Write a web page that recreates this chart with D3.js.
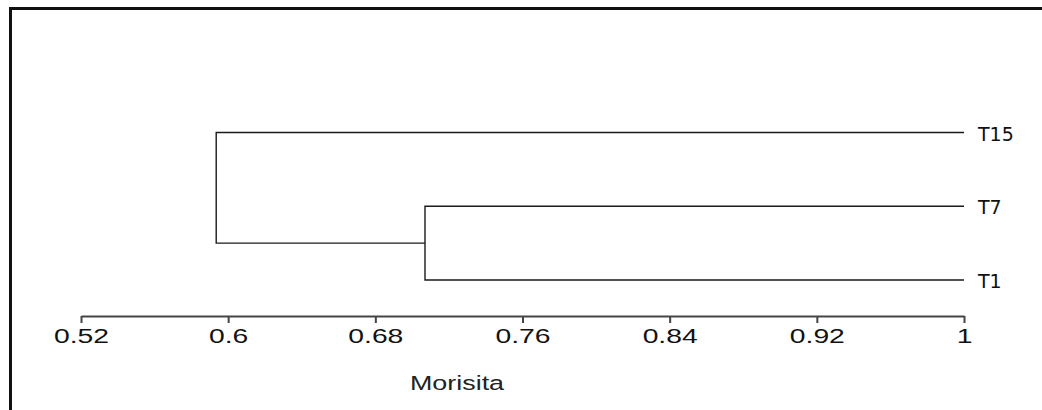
<!DOCTYPE html>
<html>
<head>
<meta charset="utf-8">
<script src="https://cdn.jsdelivr.net/npm/d3@7"></script>
<style>
  body { margin: 0; background: #fff; }
  svg { display: block; }
</style>
</head>
<body>
<div id="chart"></div>
<script>
// leaves, top to bottom
var leaves = ["T15", "T7", "T1"];
// clusters: id, the two members it joins, Morisita similarity at the join
var clusterIds = ["c1", "c2"];
var clusterChildren = [["T7", "T1"], ["T15", "c1"]];
var clusterSim = [0.707, 0.5935];
// axis
var tickValues = [0.52, 0.6, 0.68, 0.76, 0.84, 0.92, 1];
var tickLabels = ["0.52", "0.6", "0.68", "0.76", "0.84", "0.92", "1"];
var axisTitle = "Morisita";

var width = 1042, height = 410;
var stretch = 1.38; // the original picture is stretched horizontally

var svg = d3.select("#chart").append("svg")
    .attr("width", width)
    .attr("height", height);

// frame (only top and left edges are in the picture)
svg.append("path")
    .attr("d", "M10.5," + height + "V8.5H" + width)
    .attr("fill", "none")
    .attr("stroke", "#111")
    .attr("stroke-width", 3);

var x = d3.scaleLinear().domain([0.52, 1]).range([81, 964]);
var y = d3.scalePoint().domain(leaves).range([132.5, 280]);

// positions of every node
var pos = {};
leaves.forEach(function(l){ pos[l] = {x: x(1), y: y(l)}; });
clusterIds.forEach(function(id, i){
    var a = pos[clusterChildren[i][0]], b = pos[clusterChildren[i][1]];
    pos[id] = {x: x(clusterSim[i]), y: (a.y + b.y) / 2};
});

var tree = svg.append("g")
    .attr("fill", "none")
    .attr("stroke", "#1a1a1a")
    .attr("stroke-width", 1.4);

tree.selectAll("path")
    .data(clusterIds)
    .enter().append("path")
    .attr("d", function(id, i){
        var p = pos[id];
        var a = pos[clusterChildren[i][0]], b = pos[clusterChildren[i][1]];
        return "M" + a.x + "," + a.y + "H" + p.x + "V" + b.y + "H" + b.x;
    });

// leaf labels
svg.append("g").selectAll("text")
    .data(leaves)
    .enter().append("text")
    .attr("transform", function(l){ return "translate(" + (pos[l].x + 14) + "," + (pos[l].y + 8) + ")"; })
    .attr("font-family", "DejaVu Sans, Verdana, sans-serif")
    .attr("font-size", 19)
    .attr("fill", "#111")
    .text(function(l){ return l; });

// axis
var axis = d3.axisBottom(x)
    .tickValues(tickValues)
    .tickFormat(function(d, i){ return tickLabels[i]; })
    .tickSize(7)
    .tickSizeOuter(0);

var gx = svg.append("g")
    .attr("transform", "translate(0,316)")
    .call(axis);

gx.select(".domain").attr("stroke", "#444").attr("stroke-width", 2);
gx.selectAll(".tick line").attr("stroke", "#444").attr("stroke-width", 2);
gx.selectAll(".tick text")
    .attr("font-family", "Liberation Sans, Arial, sans-serif")
    .attr("font-size", 20.5)
    .attr("fill", "#111")
    .attr("y", 0)
    .attr("dy", 0)
    .attr("transform", "translate(0,27) scale(" + stretch + ",1)");

svg.append("text")
    .attr("transform", "translate(457,390) scale(" + stretch + ",1)")
    .attr("text-anchor", "middle")
    .attr("font-family", "Liberation Sans, Arial, sans-serif")
    .attr("font-size", 19.5)
    .attr("fill", "#222")
    .text(axisTitle);
</script>
</body>
</html>
